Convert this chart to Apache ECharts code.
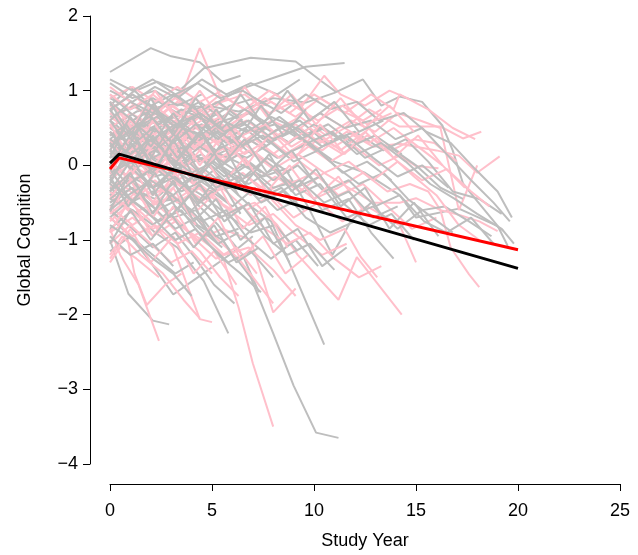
<!DOCTYPE html>
<html>
<head>
<meta charset="utf-8">
<script src="https://cdn.jsdelivr.net/npm/echarts@6/dist/echarts.min.js"></script>
<style>
  html, body { margin: 0; padding: 0; background: #fff; }
  #chart { width: 638px; height: 555px; }
</style>
</head>
<body>
<div id="chart"></div>
<script>
// tick labels
const xTicks = [0, 5, 10, 15, 20, 25]
const yTicks = [-4, -3, -2, -1, 0, 1, 2]

// fitted trajectories: [year, score]
const blackFit = [[0, 0.03], [0.45, 0.15], [20, -1.38]]
const redFit = [[0, -0.05], [0.45, 0.1], [20, -1.13]]

// individual trajectories (gray group)
const grayPaths = [
  [[0,1.25],[2,1.57],[3,1.46],[4.4,1.38],[5.5,1.12],[6.4,1.2]],
  [[0,0.72],[1.1,0.98],[2.3,1.12],[3.4,1.0],[4.6,1.3],[6.9,1.44],[9.1,1.39],[10.4,1.12],[11.1,0.98]],
  [[0,0.5],[1.3,0.72],[3.1,0.82],[4.8,0.77],[6.4,1.02],[8.1,1.18],[9.6,1.32],[11.5,1.37]],
  [[0,0.3],[1.4,0.52],[2.9,0.62],[4.7,0.8],[6.3,0.72],[8,0.9],[9.6,0.84],[11,0.97],[12.4,1.15],[13.3,0.8],[14.2,0.92],[15.3,0.85],[16.3,0.53],[16.8,0.2],[17.3,-0.24],[18,-0.48],[19,-0.81],[19.5,-1.08]],
  [[0,0.1],[1.2,0.25],[2.5,0.05],[4,0.3],[5.3,0.15],[6.8,0.35],[8.2,0.1],[9.7,0.3],[11,0.05],[12.5,-0.1],[14.2,-0.4],[15,-0.7],[17.1,-0.58],[18.9,-0.8],[19.3,-0.88]],
  [[0,-0.3],[1,-0.2],[2.1,-0.5],[3.2,-0.45],[4.3,-0.8],[5.5,-1.0],[6.9,-1.5],[8,-2.25],[9,-2.95],[10.1,-3.58],[11.2,-3.65]],
  [[0,-0.1],[1.1,0.1],[2.2,-0.15],[3.5,-0.05],[4.7,-0.35],[5.9,-0.3],[6.9,-0.55],[7.9,-0.75],[9.1,-1.5],[10.5,-2.4]],
  [[0,-1.0],[0.9,-1.72],[2.1,-2.08],[2.9,-2.13]],
  [[0,-0.7],[1,-0.95],[2,-1.3],[3.1,-1.73],[4.3,-1.5],[6,-1.17],[7,-0.95]],
  [[0,-0.45],[1.1,-0.6],[2.2,-0.9],[3.3,-1.1],[4.6,-1.55],[5.8,-2.25]],
  [[0,0.2],[1,0.05],[2.1,-0.3],[3,-0.1],[4.2,-0.5],[5.3,-0.8],[6.5,-1.2],[7.3,-1.7]],
  [[0,0.4],[1.2,0.55],[2.4,0.3],[3.6,0.45],[5,0.2],[6.2,0.05],[7.5,-0.15],[8.6,-0.05],[9.7,-0.55],[10.9,-1.2],[11.8,-0.75],[12.8,-0.5]],
  [[0,0.9],[1,0.75],[2.1,0.9],[3.3,0.7],[4.4,0.85],[5.6,0.6],[6.8,0.7],[8,0.45],[9.3,0.6],[10.6,0.3],[12,0.45],[13.4,0.2],[14.5,0.35],[15.6,0.05],[16.8,-0.35],[18.1,-0.45],[19.2,-0.65]],
  [[0,-0.2],[0.9,0.15],[2,0.35],[3.2,0.2],[4.1,0.45],[5.4,0.3],[6.6,0.5],[7.7,0.25]],
  [[0,0.6],[1.2,0.35],[2.2,0.5],[3.4,0.25],[4.4,0.1],[5.6,-0.2],[6.7,0.0],[8,-0.3],[9.3,-0.2],[10.4,-0.6],[11.7,-0.45],[12.8,-0.9],[13.9,-1.25]],
  [[0,-0.55],[1,-0.3],[2.2,-0.45],[3.3,-0.2],[4.5,-0.4],[5.7,-0.65],[6.9,-0.9],[8.1,-0.8],[9.2,-1.15]],
  [[0,0.05],[1.1,-0.2],[2.3,-0.05],[3.5,-0.35],[4.6,-0.2],[5.8,-0.5]],
  [[0,0.8],[1,1.05],[2,0.8],[3.1,0.95],[4.2,0.7],[5.3,0.85],[6.5,0.6]],
  [[0,0.35],[1.1,0.6],[2.2,0.45],[3.3,0.7],[4.6,0.5],[5.8,0.7],[7.2,0.45],[8.3,0.65],[9.5,0.4],[10.7,0.55],[11.9,0.3]],
  [[0,-0.85],[1.1,-0.6],[2.1,-0.8],[3.2,-0.55],[4.4,-0.85],[5.5,-1.1]],
  [[0,0.15],[1.2,0.4],[2.3,0.2],[3.4,0.0],[4.5,0.15],[5.6,-0.1],[6.8,-0.25],[8,-0.05],[9.1,-0.4],[10.3,-0.25],[11.6,-0.7],[12.9,-0.55],[14.1,-0.85],[15.3,-0.6],[16.4,-0.55],[17.6,-0.75],[18.7,-0.95]],
  [[0,1.0],[1.1,0.85],[2.2,1.05],[3.3,0.9],[4.5,1.15],[5.7,0.95],[6.9,1.1],[8.2,0.95],[9.3,1.15]],
  [[0,-0.3],[1,-0.5],[2.1,-0.35],[3.1,-0.7],[4.2,-0.6],[5.2,-0.95],[6.3,-0.85]],
  [[0,0.55],[1,0.4],[2.1,0.6],[3.2,0.45],[4.3,0.65],[5.4,0.4],[6.6,0.55],[7.8,0.3],[8.9,0.45],[10.1,0.2],[11.3,0.4],[12.5,0.1],[13.7,0.25],[15,0.0],[16.2,-0.3],[17.3,-0.45]],
  [[0,-0.6],[1.1,-0.85],[2.1,-1.1],[3.2,-0.9],[4.2,-1.25],[5.1,-1.6],[6.1,-1.85]],
  [[0,-0.15],[1.1,0.1],[2.1,-0.05],[3.2,0.2],[4.4,0.05],[5.5,0.25],[6.7,0.1],[7.9,0.3],[9,0.05],[10.2,0.2],[11.4,-0.1],[12.6,0.05],[13.8,-0.2]],
  [[0,0.45],[0.9,0.2],[1.9,0.4],[2.9,0.15],[4,0.3]],
  [[0,-1.15],[1,-0.95],[2.1,-1.2],[3.2,-1.45],[4.1,-1.3]],
  [[0,0.25],[1.1,0.45],[2.2,0.3],[3.3,0.55],[4.4,0.35],[5.6,0.5],[6.7,0.2],[7.9,0.0],[9.1,-0.3],[10.3,-0.15],[11.4,-0.5],[12.7,-0.8],[13.8,-0.65],[14.9,-1.0]],
  [[0,0.65],[1.2,0.8],[2.4,0.55],[3.5,0.75],[4.7,0.6],[5.9,0.8],[7.1,0.9],[8.4,0.7],[9.6,0.95],[10.8,0.75],[12.1,0.85],[13.2,0.6],[14.4,0.7],[15.5,0.45],[16.7,0.3],[17.9,-0.05],[19,-0.35],[19.7,-0.7]],
  [[0,-0.4],[1,-0.15],[2.1,-0.3],[3.1,-0.05],[4.2,-0.25],[5.4,0.0],[6.5,-0.2]],
  [[0,0.0],[1.2,-0.35],[2.3,-0.6],[3.4,-0.45],[4.5,-0.75],[5.7,-0.6],[6.8,-1.0],[7.9,-1.25],[9.1,-1.0],[10.2,-1.35]],
  [[0,0.4],[1.1,0.6],[2.1,0.75],[3.1,0.55],[4.2,0.3],[5.2,0.5],[6.4,0.25],[7.5,0.4],[8.6,0.15],[9.8,0.3],[11,0.0],[12.2,-0.25],[13.4,-0.1],[14.6,-0.45],[15.8,-0.7],[16.8,-0.9]],
  [[0,-0.7],[1,-0.45],[2,-0.65],[3,-0.4],[4,-0.6],[5,-0.35],[6,-0.55],[7.1,-0.3],[8.2,-0.6],[9.3,-0.45]],
  [[0,0.95],[1,0.7],[2,0.5],[3.1,0.65],[4.1,0.45],[5.2,0.2],[6.3,0.35]],
  [[0,-0.25],[1.2,-0.5],[2.4,-0.75],[3.5,-0.6],[4.6,-1.0],[5.8,-1.3],[6.9,-1.15],[8,-1.5]],
  [[0,0.3],[1.1,0.1],[2.2,0.25],[3.3,-0.05],[4.5,0.1],[5.6,-0.15],[6.8,0.05],[8,-0.2],[9.2,0.0],[10.5,-0.35],[11.7,-0.2],[13,-0.55],[14.2,-0.4],[15.4,-0.75],[16.5,-0.9],[17.7,-0.7],[18.8,-1.05]],
  [[0,0.7],[1.2,0.5],[2.3,0.65],[3.4,0.4],[4.5,0.55],[5.7,0.3],[6.8,0.45],[8.1,0.55],[9.3,0.35],[10.5,0.5],[11.8,0.25],[13,0.4],[14.3,0.15]],
  [[0,-0.5],[1.1,-0.3],[2.1,-0.55],[3.2,-0.85],[4.2,-0.7],[5.3,-1.05],[6.3,-0.9]],
  [[0,0.15],[1,0.35],[2,0.15],[3.1,0.4],[4.2,0.2],[5.3,0.45],[6.4,0.25],[7.6,0.5],[8.8,0.3],[10,0.55],[11.3,0.35]],
  [[0,1.1],[1.1,0.9],[2.2,1.0],[3.3,0.8],[4.5,0.95]],
  [[0,-0.95],[1,-1.2],[2.1,-1.05],[3.1,-1.35]],
  [[0,0.5],[1,0.3],[2.1,0.1],[3.1,0.25],[4.2,-0.05],[5.2,-0.3],[6.3,-0.15],[7.4,-0.5],[8.5,-0.35],[9.6,-0.7],[10.8,-0.9],[12,-0.75]],
  [[0,-0.1],[1.1,0.05],[2.2,0.2],[3.3,0.0],[4.4,0.25],[5.5,0.05],[6.6,-0.15],[7.7,0.1],[8.8,-0.1]],
  [[0,0.85],[1.1,0.6],[2.1,0.35],[3.2,0.55],[4.4,0.4],[5.5,0.6],[6.7,0.45],[7.9,0.65],[9.1,0.5],[10.3,0.7],[11.5,0.5],[12.8,0.6],[14,0.35],[15.3,0.5],[16.5,0.15],[17.7,-0.2],[18.8,-0.5],[19.6,-0.75]],
  [[0,-0.35],[1,-0.1],[2,0.1],[3.1,-0.1],[4.1,0.15],[5.2,-0.05],[6.3,0.15],[7.4,-0.1]],
  [[0,0.2],[1.1,-0.05],[2.1,-0.3],[3.2,-0.15],[4.3,-0.45],[5.4,-0.7],[6.5,-0.55],[7.6,-0.95],[8.7,-1.2],[9.8,-1.05],[11,-1.4]],
  [[0,0.6],[1,0.85],[2.1,0.7],[3.2,0.95],[4.3,1.1],[5.4,0.9],[6.5,1.0],[7.7,0.8]],
  [[0,-0.6],[0.9,-0.4],[2,-0.2],[3.1,-0.4],[4.1,-0.15],[5.2,-0.35]],
  [[0,0.0],[1,0.25],[2.1,0.5],[3.1,0.3],[4.2,0.55],[5.3,0.35],[6.4,0.6],[7.5,0.35],[8.6,0.55],[9.7,0.3],[10.9,0.45],[12.1,0.15],[13.3,0.3],[14.5,0.05],[15.7,-0.25],[16.9,-0.45],[18,-0.65],[19.2,-0.85],[19.8,-1.05]],
  [[0,-0.8],[1.1,-1.0],[2.1,-1.25],[3.1,-1.45],[4,-1.75]],
  [[0,0.35],[1,0.15],[2,0.35],[3,0.1],[4,-0.1],[5.1,0.05],[6.2,-0.2],[7.3,-0.45],[8.4,-0.3],[9.5,-0.6]],
  [[0,1.15],[1.1,1.0],[2.1,1.15],[3.2,0.95],[4.2,0.75]],
  [[0,-0.45],[1.2,-0.2],[2.3,0.0],[3.5,-0.25],[4.6,-0.05],[5.8,-0.3],[7,-0.1],[8.1,-0.4],[9.3,-0.2],[10.5,-0.5],[11.7,-0.35],[12.9,-0.7],[14.1,-0.55]],
  [[0,0.25],[1.1,0.5],[2.2,0.7],[3.3,0.5],[4.4,0.7],[5.5,0.5],[6.6,0.75],[7.8,0.55]],
  [[0,-0.2],[1,-0.45],[2.1,-0.7],[3.2,-1.0],[4.2,-0.85],[5.3,-1.2],[6.4,-1.45],[7.4,-1.7]],
  [[0,0.75],[1.1,0.95],[2.2,0.75],[3.3,0.55],[4.4,0.7],[5.6,0.45],[6.8,0.6],[8,0.35],[9.2,0.5],[10.4,0.25],[11.6,0.4],[12.9,0.1],[14.1,-0.15],[15.3,0.0],[16.6,-0.3]],
  [[0,0.6],[0.9,0.25],[1.9,0.7],[3,0.3],[4,0.65],[5.1,0.2]],
  [[0,-0.25],[1,0.3],[2.1,-0.1],[3.1,0.35],[4.2,-0.2],[5.2,0.1],[6.3,-0.4]],
  [[0,0.1],[0.8,0.55],[1.9,0.05],[2.9,0.5],[4,0.1]],
  [[0,-0.6],[1,-0.1],[2.1,-0.65],[3.1,-0.2],[4.1,-0.75],[5.2,-0.45],[6.4,-1.0],[7.6,-0.7],[8.8,-1.3]],
  [[0,0.85],[1,0.4],[2,0.9],[3,0.45],[4.1,0.8],[5.2,0.35]],
  [[0,-0.05],[1.1,-0.5],[2.2,-0.1],[3.3,-0.6],[4.4,-0.25],[5.6,-0.75],[6.8,-0.5],[8,-1.05],[9.2,-0.85],[10.4,-1.35],[11.6,-1.1]],
  [[0,0.45],[1.1,0.05],[2.2,0.5],[3.3,0.1],[4.4,0.45],[5.5,0.0],[6.6,0.35],[7.7,-0.1],[8.9,0.2],[10.1,-0.25]],
  [[0,-1.05],[1,-0.6],[2,-1.0],[3,-0.65],[4.1,-1.1],[5.1,-0.8],[6.2,-1.3],[7.3,-1.1]],
  [[0,0.2],[1,0.65],[2,0.25],[3.1,0.7],[4.1,0.3],[5.2,0.75],[6.3,0.35],[7.4,0.8],[8.5,0.4],[9.6,0.75]],
  [[0,-0.35],[1.1,0.1],[2.1,-0.4],[3.2,0.0],[4.3,-0.5],[5.3,-0.15],[6.4,-0.65]],
  [[0,0.75],[1,0.35],[2.1,0.8],[3.1,0.4],[4.2,0.9],[5.3,0.5],[6.4,0.95],[7.5,0.55],[8.7,1.0],[9.8,0.6],[11,0.85],[12.2,0.45],[13.4,0.6]],
  [[0,0.0],[1.1,0.45],[2.2,-0.05],[3.3,0.4],[4.4,-0.1],[5.5,0.3],[6.6,-0.25],[7.8,0.15],[8.9,-0.35],[10.1,-0.05],[11.3,-0.55],[12.5,-0.3],[13.7,-0.85],[14.9,-0.5],[16.1,-0.95]],
  [[0,-0.15],[0.9,-0.55],[1.9,-0.2],[2.9,-0.7],[3.9,-0.4],[4.9,-0.95]],
  [[0,0.3],[1,-0.05],[2.1,0.4],[3.1,0.0],[4.2,0.35]]
]

// individual trajectories (pink group)
const pinkPaths = [
  [[0,0.3],[1.1,0.5],[2.3,0.7],[3.6,1.0],[4.4,1.57],[5.5,0.85],[6.6,0.95],[7.8,0.7],[9,0.85]],
  [[0,0.6],[1.1,0.8],[2.2,0.6],[3.3,0.85],[4.5,0.65],[5.7,0.9],[6.9,0.7],[8.1,0.95],[9.3,0.75],[10.5,1.2],[11.3,0.95],[12.5,0.8],[13.7,1.0],[15,0.85]],
  [[0,0.1],[1,0.35],[2.1,0.2],[3.2,0.45],[4.3,0.3],[5.5,0.55],[6.7,0.35],[7.9,0.6],[9.1,0.45],[10.3,0.7],[11.5,0.5],[12.7,0.75],[14.2,0.52],[16.2,0.52],[17.3,0.36],[18.2,0.45]],
  [[0,-0.2],[1.1,0.05],[2.2,0.25],[3.3,0.05],[4.4,0.3],[5.6,0.1],[6.8,0.35],[8,0.15],[9.2,0.4],[10.4,0.2],[11.6,0.45],[12.9,0.25],[14.2,0.29],[16,0.2],[17.1,0.13],[18,-0.1],[19.1,0.12]],
  [[0,0.45],[1.2,0.25],[2.3,0.45],[3.5,0.2],[4.7,0.4],[5.9,0.15],[7.1,0.35],[8.3,0.1],[9.5,0.3],[10.8,0.05],[12,0.25],[13.2,0.0],[14.2,0.13],[15,-0.01],[16.1,-0.04]],
  [[0,0.8],[1.1,0.6],[2.2,0.8],[3.3,0.55],[4.4,0.75],[5.6,0.5],[6.8,0.7],[8,0.45],[9.3,0.65],[10.6,0.4],[11.8,0.6],[13,0.45],[14.1,0.7],[15.2,0.6],[16.2,0.5],[17.1,-0.6],[17.6,-0.27],[18,0.0]],
  [[0,-0.5],[1.1,-0.3],[2.2,-0.5],[3.3,-0.25],[4.5,-0.45],[5.7,-0.2],[6.9,-0.4],[8.1,-0.15],[9.3,-0.35],[10.5,-0.1],[11.7,-0.3],[12.9,-0.5],[14.2,-0.5],[15,-0.44],[16.2,-0.6],[17.2,-0.67],[18.1,-0.75],[19,-0.88]],
  [[0,0.0],[1.1,-0.2],[2.2,0.0],[3.3,-0.25],[4.4,-0.5],[5.5,-0.3],[6.7,-0.6],[7.9,-0.4],[9,-0.7],[10.2,-0.5],[11.4,-0.75],[12.6,-0.55],[14.2,-0.8],[15,-1.3]],
  [[0,0.2],[1,0.0],[2.1,-0.15],[3.2,0.1],[4.3,-0.1],[5.4,-0.3],[6.5,-0.1],[7.7,-0.35],[8.8,-0.2],[10,-0.45],[11.2,-0.3],[12.4,-0.1],[13.6,-0.35],[14.7,-0.25],[15.6,-0.35],[16.2,-0.6],[16.7,-1.1],[17.6,-1.46],[18.1,-1.63]],
  [[0,-0.9],[1.1,-0.7],[2.1,-0.95],[3.2,-0.75],[4.3,-1.0],[5.5,-0.85],[6.9,-1.0],[8,-1.97],[9.1,-1.65]],
  [[0,-0.3],[1.2,-0.1],[2.4,-0.35],[3.6,-0.15],[4.8,-0.4],[6,-0.6],[7.1,-0.5],[8.2,-0.8],[9.2,-1.2],[11.2,-1.8],[12.1,-1.23],[14.3,-2.0]],
  [[0,-0.4],[1.1,-0.65],[2.2,-0.5],[3.4,-0.8],[4.5,-1.0],[5.5,-1.2],[6.3,-1.9],[7,-2.65],[8,-3.5]],
  [[0,-1.3],[0.5,-1.1],[1.3,-1.25],[2.4,-1.5]],
  [[0,-0.85],[0.5,-1.2],[1.4,-1.6],[2.4,-2.35]],
  [[0,-0.6],[0.8,-0.9],[1.2,-1.45],[1.8,-1.87],[2.7,-1.6],[3.5,-1.45]],
  [[0,0.5],[1,0.7],[2,0.55],[3,0.8],[4.1,0.6],[5.2,0.85],[6.4,0.65],[7.6,0.9],[8.8,0.7],[10,0.95],[11.2,0.75],[12.4,0.6],[13.3,0.75]],
  [[0,-0.1],[1,-0.35],[2,-0.55],[3.1,-0.4],[4.2,-0.7],[5.3,-1.0],[6.3,-1.25],[7.3,-1.6],[8,-1.85]],
  [[0,0.35],[1.1,0.15],[2.2,0.35],[3.3,0.1],[4.4,0.3],[5.5,0.05],[6.6,0.25]],
  [[0,-0.75],[1,-0.5],[2,-0.75],[3.1,-1.1],[4.4,-2.06],[5,-2.1]],
  [[0,0.9],[1.1,1.05],[2.2,0.85],[3.3,1.05],[4.4,0.85],[5.5,1.0]],
  [[0,-0.15],[1.1,0.1],[2.2,-0.1],[3.3,0.15],[4.4,-0.05],[5.6,-0.3],[6.7,-0.15],[7.9,-0.45],[9.1,-0.8],[10.3,-1.0],[11.5,-0.85],[12.3,-1.23],[13.1,-1.5]],
  [[0,0.65],[1.1,0.45],[2.2,0.25],[3.3,0.45],[4.4,0.2],[5.5,0.4],[6.6,0.15],[7.8,0.35],[9,0.1],[10.2,0.35],[11.4,0.15],[12.6,0.4],[13.8,0.2],[14.9,0.35],[15.9,0.3],[17,0.05]],
  [[0,-0.55],[1.1,-0.8],[2.2,-0.6],[3.3,-0.9],[4.4,-1.15],[5.4,-1.5],[6.3,-1.75]],
  [[0,0.25],[1,0.5],[2.1,0.3],[3.2,0.55],[4.3,0.35],[5.4,0.1],[6.5,0.3],[7.7,0.05],[8.8,-0.25],[10,-0.1],[11.2,-0.4],[12.4,-0.25],[13.6,-0.55],[14.8,-0.85],[16,-0.7]],
  [[0,1.05],[1,0.85],[2,0.6],[3.1,0.8],[4.2,0.55],[5.3,0.75]],
  [[0,-1.05],[1,-0.8],[2,-1.05],[3,-1.3],[4,-1.15],[5,-1.45]],
  [[0,0.15],[1.1,0.35],[2.2,0.6],[3.3,0.4],[4.4,0.65],[5.5,0.45],[6.7,0.7],[7.9,0.85],[9.1,0.65],[10.3,0.9],[11.5,0.7],[12.8,0.95],[13.9,0.75],[14.2,0.95],[15.6,0.75],[16.8,0.5],[17.9,0.35]],
  [[0,-0.25],[1.1,-0.45],[2.2,-0.25],[3.3,-0.5],[4.4,-0.3],[5.6,-0.55],[6.8,-0.8],[8,-0.65],[9.2,-0.95],[10.4,-1.2],[11.6,-1.05]],
  [[0,0.55],[1.2,0.35],[2.3,0.1],[3.4,0.3],[4.5,0.05],[5.7,0.25],[6.9,0.0],[8.1,-0.2],[9.3,0.05],[10.5,-0.2]],
  [[0,-0.65],[1.1,-0.4],[2.2,-0.2],[3.3,-0.45],[4.4,-0.25],[5.5,-0.5]],
  [[0,0.4],[1,0.6],[2.1,0.4],[3.2,0.6],[4.3,0.35],[5.4,0.55],[6.5,0.3],[7.7,0.5],[8.9,0.25],[10.1,0.45],[11.3,0.2],[12.5,0.45],[13.7,0.15],[14.9,-0.15],[16,-0.4],[17.1,-0.8],[18.1,-1.0]],
  [[0,-1.2],[0.6,-0.95],[1.5,-1.2],[2.6,-1.45],[3.6,-1.8],[4.4,-2.05]],
  [[0,0.05],[1.1,-0.2],[2.1,-0.4],[3.2,-0.2],[4.3,-0.45],[5.4,-0.7],[6.5,-0.55],[7.6,-0.85],[8.7,-1.05],[9.8,-0.9],[11,-1.25],[12.2,-1.5],[13.3,-1.35]],
  [[0,0.75],[1.1,0.95],[2.2,0.7],[3.3,0.5],[4.4,0.7],[5.5,0.45],[6.7,0.6],[7.9,0.35],[9.1,0.55],[10.3,0.3],[11.5,0.5],[12.7,0.3],[13.9,0.5],[15.1,0.25],[16.3,0.0],[17.4,-0.3]],
  [[0,-0.35],[1,-0.6],[2.1,-0.85],[3.2,-0.7],[4.2,-1.0],[5.2,-1.25],[6.2,-1.1],[7.2,-1.45]],
  [[0,0.3],[1.1,0.1],[2.2,0.3],[3.3,0.5],[4.4,0.3],[5.6,0.05],[6.8,0.2],[8,-0.05],[9.2,0.15],[10.5,-0.1],[11.7,0.05],[12.9,-0.2],[14.1,0.05],[15.3,-0.2],[16.5,-0.05],[17.7,-0.35],[18.6,-0.55]],
  [[0,-0.05],[1,0.2],[2,0.45],[3.1,0.25],[4.2,0.5],[5.3,0.3],[6.4,0.55]],
  [[0,0.7],[1.1,0.5],[2.1,0.7],[3.2,0.9],[4.3,0.7],[5.4,0.95],[6.6,0.75],[7.8,1.0],[9,0.8],[10.2,0.6],[11.4,0.8],[12.6,0.55],[13.8,0.7]],
  [[0,-0.7],[1.1,-0.95],[2.2,-0.8],[3.3,-1.05],[4.4,-0.9],[5.6,-1.2],[6.8,-1.1],[8,-1.4],[9.1,-1.75]],
  [[0,0.95],[1,0.75],[2.1,0.95],[3.2,0.7],[4.3,0.5],[5.4,0.65],[6.5,0.4],[7.6,0.55],[8.7,0.3],[9.8,0.5],[11,0.25],[12.2,0.45]],
  [[0,0.2],[1,0.6],[2.1,0.15],[3.1,0.55],[4.2,0.2],[5.3,0.6],[6.4,0.25]],
  [[0,-0.45],[1.1,0.0],[2.1,-0.5],[3.2,-0.1],[4.3,-0.6],[5.4,-0.3],[6.5,-0.85],[7.6,-0.55],[8.7,-1.1]],
  [[0,0.55],[1,0.1],[2.1,0.6],[3.1,0.15],[4.2,0.55],[5.3,0.05]],
  [[0,-0.9],[1,-0.45],[2.1,-0.95],[3.1,-0.55],[4.2,-1.05],[5.3,-0.7],[6.4,-1.25],[7.5,-0.95],[8.6,-1.45],[9.7,-1.2]],
  [[0,0.85],[1.1,0.5],[2.2,1.0],[3.3,0.6],[4.4,1.0],[5.5,0.6],[6.6,1.05],[7.7,0.65],[8.9,0.95],[10.1,0.55],[11.3,0.9],[12.5,0.5],[13.7,0.8],[14.9,0.45]],
  [[0,-0.1],[1,0.3],[2,-0.2],[3.1,0.25],[4.1,-0.25],[5.2,0.15]],
  [[0,0.35],[1.1,-0.1],[2.2,0.3],[3.3,-0.15],[4.4,0.2],[5.5,-0.25],[6.6,0.1],[7.7,-0.35],[8.8,0.0],[10,-0.45],[11.2,-0.15],[12.4,-0.6]],
  [[0,-0.6],[1,-0.2],[2.1,-0.7],[3.1,-0.3],[4.2,-0.8]],
  [[0,0.0],[1.1,0.4],[2.2,0.0],[3.3,0.45],[4.4,0.0],[5.5,0.4],[6.7,0.0],[7.9,0.45],[9.1,0.1],[10.3,0.55],[11.5,0.15],[12.7,0.5],[13.9,0.1],[15.1,0.4],[16.3,0.0]],
  [[0,-1.25],[1,-0.85],[2,-1.3],[3.1,-0.95],[4.1,-1.45],[5.1,-1.15],[6.2,-1.6]]
]

const GRAY = '#BEBEBE'
const PINK = '#FFC0CB'

const lineSeries = (data, color, width) => ({
  type: 'line',
  data: data,
  symbol: 'none',
  silent: true,
  animation: false,
  lineStyle: { color: color, width: width },
  itemStyle: { color: color }
})

// interleave the two groups so neither sits fully on top
const series = []
const n = Math.max(grayPaths.length, pinkPaths.length)
for (let i = 0; i < n; i++) {
  if (grayPaths[i]) series.push(lineSeries(grayPaths[i], GRAY, 2))
  if (pinkPaths[i]) series.push(lineSeries(pinkPaths[i], PINK, 2))
}
series.push(lineSeries(redFit, '#FF0000', 3))
series.push(lineSeries(blackFit, '#000000', 3))

const fontFamily = '"Liberation Sans", Arial, Helvetica, sans-serif'
const minus = (v) => (v < 0 ? '\u2212' + Math.abs(v) : String(v))

const option = {
  animation: false,
  backgroundColor: '#fff',
  grid: { left: 110, right: 18, top: 16, bottom: 87, containLabel: false },
  xAxis: {
    type: 'value',
    min: xTicks[0],
    max: xTicks[xTicks.length - 1],
    interval: 5,
    offset: 20,
    name: 'Study Year',
    nameLocation: 'middle',
    nameGap: 48,
    nameTextStyle: { color: '#000', fontSize: 18, fontFamily: fontFamily },
    axisLine: { show: true, onZero: false, lineStyle: { color: '#000', width: 1 } },
    axisTick: { show: true, length: 7, lineStyle: { color: '#000' } },
    axisLabel: { color: '#000', fontSize: 18, fontFamily: fontFamily, margin: 18 },
    splitLine: { show: false }
  },
  yAxis: {
    type: 'value',
    min: yTicks[0],
    max: yTicks[yTicks.length - 1],
    interval: 1,
    offset: 20,
    name: 'Global Cognition',
    nameLocation: 'middle',
    nameRotate: 90,
    nameGap: 56,
    nameTextStyle: { color: '#000', fontSize: 18, fontFamily: fontFamily },
    axisLine: { show: true, onZero: false, lineStyle: { color: '#000', width: 1 } },
    axisTick: { show: true, length: 7, lineStyle: { color: '#000' } },
    axisLabel: { color: '#000', fontSize: 18, fontFamily: fontFamily, margin: 12, formatter: minus },
    splitLine: { show: false }
  },
  series: series
}

const myChart = echarts.init(document.getElementById('chart'), null, { renderer: 'canvas' })
option && myChart.setOption(option)
</script>
</body>
</html>
